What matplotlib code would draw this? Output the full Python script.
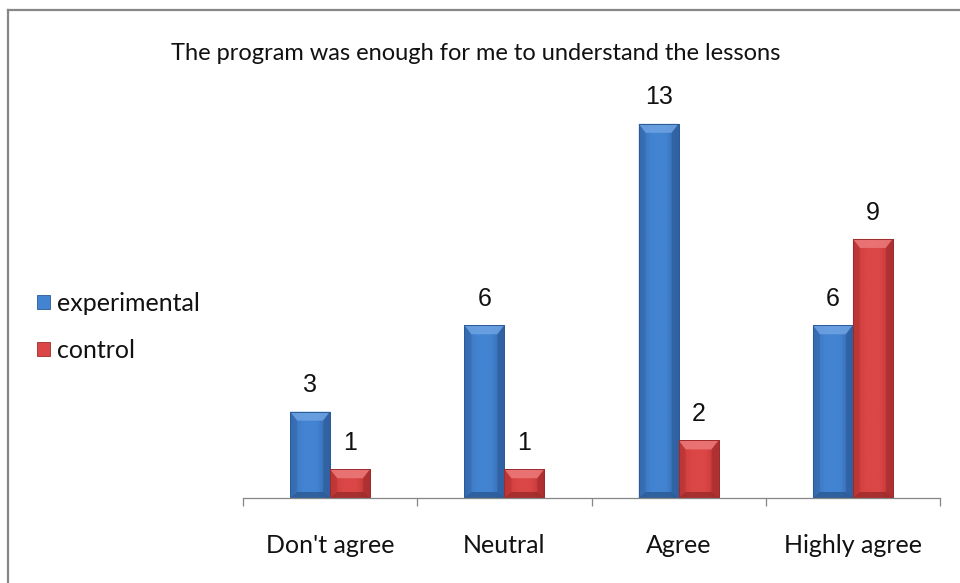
import matplotlib.pyplot as plt
import numpy as np
from matplotlib.patches import Polygon, Rectangle
from matplotlib.lines import Line2D
from matplotlib.colors import LinearSegmentedColormap

categories = ["Don't agree", "Neutral", "Agree", "Highly agree"]
experimental = [3, 6, 13, 6]
control = [1, 1, 2, 9]
series_names = ["experimental", "control"]

W, H, DPI = 960, 583, 100
TEXT_FONT = ["Lato", "DejaVu Sans"]
NUM_FONT = ["Liberation Sans", "DejaVu Sans"]

# face colours: left edge, centre, right edge, top bevel, side bevel, outline
palette = {
    "experimental": dict(l="#3a72ba", c="#4384d2", r="#3266aa", top="#6ea3e2",
                         side="#2f5f9f", bot="#2a568f", edge="#2b5a96"),
    "control": dict(l="#c83a3a", c="#db4646", r="#b83434", top="#ec7a7a",
                    side="#a92e2e", bot="#962828", edge="#9c2b2b"),
}

fig = plt.figure(figsize=(W / DPI, H / DPI), dpi=DPI)

# outer chart frame (top and left edges only are inside the image)
frame = dict(color="#878787", linewidth=1.6, transform=fig.transFigure)
fig.add_artist(Line2D([7.5 / W, 1.0], [1 - 9.5 / H, 1 - 9.5 / H], **frame))
fig.add_artist(Line2D([7.5 / W, 7.5 / W], [0.0, 1 - 9.5 / H], **frame))

ax = fig.add_axes([243 / W, (H - 498) / H, (940 - 243) / W, (498 - 95) / H])
ax.set_xlim(-0.5, len(categories) - 0.5)
ax.set_ylim(0, 14)

x = np.arange(len(categories))
bw = 40 / ((940 - 243) / len(categories))

bars_e = ax.bar(x - bw / 2, experimental, bw, color=palette["experimental"]["c"],
                edgecolor=palette["experimental"]["edge"], linewidth=0.6,
                label="experimental", zorder=2)
bars_c = ax.bar(x + bw / 2, control, bw, color=palette["control"]["c"],
                edgecolor=palette["control"]["edge"], linewidth=0.6,
                label="control", zorder=2)

# pixel size of one data unit, used for the bevel width
p0 = ax.transData.transform((0, 0))
p1 = ax.transData.transform((1, 1))
ux, uy = p1[0] - p0[0], p1[1] - p0[1]
bx, by = 7 / ux, 9 / uy
bb = 6 / uy


def shade(bars, col):
    cmap = LinearSegmentedColormap.from_list("g", [col["l"], col["c"], col["c"], col["r"]])
    grad = np.linspace(0, 1, 64).reshape(1, -1)
    for b in bars:
        x0, y0 = b.get_x(), b.get_y()
        x1, y1 = x0 + b.get_width(), y0 + b.get_height()
        im = ax.imshow(grad, cmap=cmap, extent=(x0, x1, y0, y1), aspect="auto",
                       interpolation="bicubic", zorder=2.1)
        im.set_clip_path(b)
        polys = [
            ([(x0, y1), (x1, y1), (x1 - bx, y1 - by), (x0 + bx, y1 - by)], col["top"], 0.85),
            ([(x0, y0), (x0, y1), (x0 + bx, y1 - by), (x0 + bx, y0 + bb)], col["side"], 0.4),
            ([(x1, y0), (x1, y1), (x1 - bx, y1 - by), (x1 - bx, y0 + bb)], col["side"], 0.75),
            ([(x0, y0), (x1, y0), (x1 - bx, y0 + bb), (x0 + bx, y0 + bb)], col["bot"], 0.75),
        ]
        for pts, fc, a in polys:
            ax.add_patch(Polygon(pts, closed=True, facecolor=fc, edgecolor="none",
                                 alpha=a, zorder=2.2))
        ax.add_patch(Rectangle((x0, y0), x1 - x0, y1 - y0, facecolor="none",
                               edgecolor=col["edge"], linewidth=0.7, zorder=2.3))


shade(bars_e, palette["experimental"])
shade(bars_c, palette["control"])

# value labels above each bar
for bars, vals in ((bars_e, experimental), (bars_c, control)):
    for b, v in zip(bars, vals):
        ax.annotate(str(v), (b.get_x() + b.get_width() / 2, v),
                    xytext=(0, 19), textcoords="offset points",
                    ha="center", va="center", fontsize=18, family=NUM_FONT,
                    color="#111111")

for s in ("left", "right", "top"):
    ax.spines[s].set_visible(False)
ax.spines["bottom"].set_color("#868686")
ax.spines["bottom"].set_linewidth(0.9)
ax.set_yticks([])
ax.set_xticks(x)
ax.set_xticklabels(categories, fontsize=18, family=TEXT_FONT, color="#111111")
ax.tick_params(axis="x", which="major", length=0, pad=26)
ax.set_xticks(np.arange(len(categories) + 1) - 0.5, minor=True)
ax.tick_params(axis="x", which="minor", length=6, width=0.9, color="#868686",
               direction="out")

fig.text((173 + 778) / 2 / W, 1 - 53 / H,
         "The program was enough for me to understand the lessons",
         ha="center", va="center", fontsize=17, family=TEXT_FONT, color="#111111")

leg = fig.legend(handles=[bars_e, bars_c], labels=series_names,
                 loc="center left", bbox_to_anchor=(37 / W, 1 - 327 / H),
                 frameon=False, prop=dict(family=TEXT_FONT, size=18),
                 handlelength=0.5, handleheight=0.5, handletextpad=0.3,
                 labelspacing=0.95, borderpad=0, borderaxespad=0)
for t in leg.get_texts():
    t.set_color("#111111")

fig.savefig("out.png", dpi=DPI)
